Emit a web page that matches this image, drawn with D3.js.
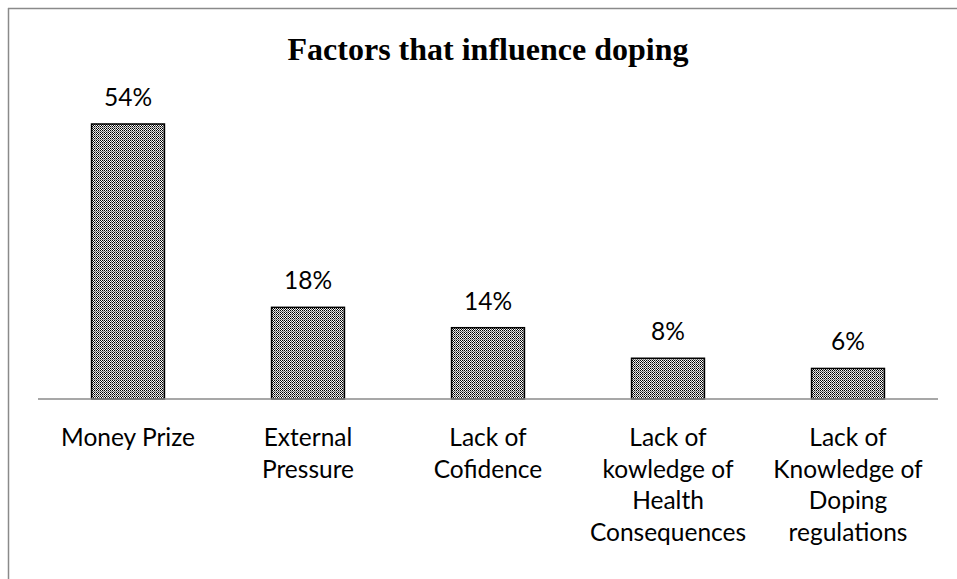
<!DOCTYPE html>
<html>
<head>
<meta charset="utf-8">
<script src="https://cdn.jsdelivr.net/npm/d3@7"></script>
<style>
  html, body { margin: 0; padding: 0; background: #fff; }
  svg { display: block; }
</style>
</head>
<body>
<svg id="chart" width="957" height="579"></svg>
<script>
const title = "Factors that influence doping";
const categories = [
  "Money Prize",
  "External\nPressure",
  "Lack of\nCofidence",
  "Lack of\nkowledge of\nHealth\nConsequences",
  "Lack of\nKnowledge of\nDoping\nregulations"
];
const values = [54, 18, 14, 8, 6];
const valueLabels = ["54%", "18%", "14%", "8%", "6%"];

const svg = d3.select("#chart");
const W = 957, H = 579;

// pattern fill
const defs = svg.append("defs");
const pat = defs.append("pattern")
  .attr("id", "checker")
  .attr("patternUnits", "userSpaceOnUse")
  .attr("width", 4).attr("height", 4);
pat.append("rect").attr("width", 4).attr("height", 4).attr("fill", "#fff");
[[0,0],[2,0],[1,1],[3,1],[0,2],[2,2],[1,3],[3,3]].forEach(([x,y]) => {
  pat.append("rect").attr("x", x).attr("y", y).attr("width", 1).attr("height", 1).attr("fill", "#000");
});
pat.append("rect").attr("x", 3).attr("y", 0).attr("width", 1).attr("height", 4).attr("fill", "#aaa").attr("opacity", 0.5);
pat.append("rect").attr("x", 0).attr("y", 3).attr("width", 4).attr("height", 1).attr("fill", "#aaa").attr("opacity", 0.5);

// frame (top and left edges visible)
svg.append("line").attr("x1", 8).attr("y1", 8.5).attr("x2", W).attr("y2", 8.5)
  .attr("stroke", "#8a8a8a").attr("stroke-width", 1.5);
svg.append("line").attr("x1", 8.5).attr("y1", 8).attr("x2", 8.5).attr("y2", H)
  .attr("stroke", "#8a8a8a").attr("stroke-width", 1.5);

const x = d3.scaleBand().domain(categories).range([38, 938]).paddingInner(0.595).paddingOuter(0.2975);
const y = d3.scaleLinear().domain([0, 54]).range([399, 124]);

svg.append("text")
  .attr("x", 488).attr("y", 60)
  .attr("text-anchor", "middle")
  .attr("font-family", "'Liberation Serif', 'Times New Roman', serif")
  .attr("font-weight", "bold")
  .attr("font-size", 32)
  .text(title);

svg.append("g").selectAll("rect")
  .data(values)
  .join("rect")
  .attr("x", (d, i) => x(categories[i]))
  .attr("y", d => y(d))
  .attr("width", x.bandwidth())
  .attr("height", d => y(0) - y(d))
  .attr("fill", "url(#checker)")
  .attr("stroke", "#000")
  .attr("stroke-width", 1.5);

// axis baseline
const axis = d3.axisBottom(x).tickSize(0).tickFormat("");
const ax = svg.append("g").attr("transform", "translate(0,399)").call(axis);
ax.select(".domain").attr("stroke", "#8a8a8a").attr("stroke-width", 1.5).attr("d", "M38,0H938");

const font = "Lato, 'Open Sans', sans-serif";
const fs = 24.5;
svg.append("g").selectAll("text")
  .data(values)
  .join("text")
  .attr("x", (d, i) => x(categories[i]) + x.bandwidth() / 2)
  .attr("y", d => y(d) - 18)
  .attr("text-anchor", "middle")
  .attr("font-family", font)
  .attr("font-size", fs)
  .attr("fill", "#000")
  .text((d, i) => valueLabels[i]);

const lab = svg.append("g").selectAll("text")
  .data(categories)
  .join("text")
  .attr("x", d => x(d) + x.bandwidth() / 2)
  .attr("y", 446)
  .attr("text-anchor", "middle")
  .attr("font-family", font)
  .attr("font-size", fs)
  .attr("fill", "#000");
lab.each(function(d) {
  const t = d3.select(this);
  d.split("\n").forEach((line, i) => {
    t.append("tspan").attr("x", x(d) + x.bandwidth() / 2).attr("dy", i === 0 ? 0 : 31.5).text(line);
  });
});
</script>
</body>
</html>
